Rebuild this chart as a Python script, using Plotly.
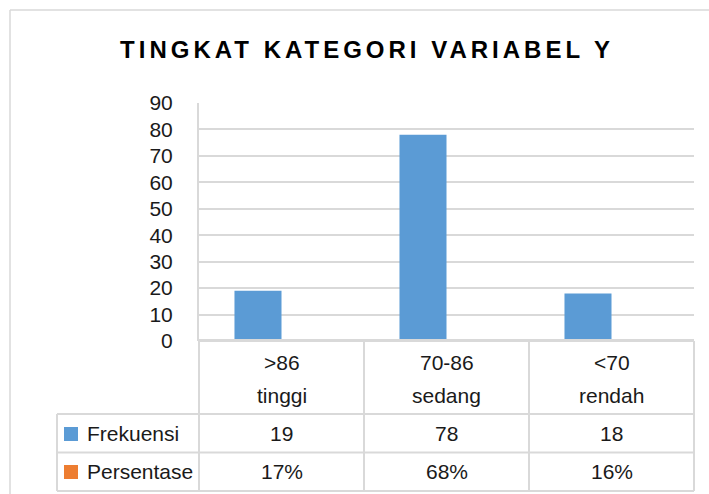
import plotly.graph_objects as go

# ---- data ----
cat_top = [">86", "70-86", "<70"]
cat_bottom = ["tinggi", "sedang", "rendah"]
frekuensi = [19, 78, 18]
persentase = [17, 68, 16]  # percent
series_names = ["Frekuensi", "Persentase"]
series_colors = ["#5B9BD5", "#ED7D31"]
title_text = "TINGKAT KATEGORI VARIABEL Y"

W, H = 709, 494
L, R, T, B = 199, 15, 103, 153
PW = W - L - R
PH = H - T - B
GRID = "#d9d9d9"
TXT = "#1a1a1a"
FONT = "Liberation Sans, Arial, sans-serif"


def px(x):
    return (x - L) / PW


def py(y):
    return (H - B - y) / PH


fig = go.Figure()
fig.add_trace(go.Bar(x=cat_top, y=frekuensi, name=series_names[0],
                     marker=dict(color=series_colors[0], line=dict(width=0))))
fig.add_trace(go.Bar(x=cat_top, y=[p / 100 for p in persentase], name=series_names[1],
                     marker=dict(color=series_colors[1], line=dict(width=0))))

shapes = []
line = dict(color=GRID, width=2)
# outer chart border (left and top edges visible)
shapes.append(dict(type="line", xref="paper", yref="paper", x0=px(10), x1=px(10),
                   y0=py(H), y1=py(10), line=dict(color=GRID, width=1.5), layer="below"))
shapes.append(dict(type="line", xref="paper", yref="paper", x0=px(10), x1=px(W),
                   y0=py(10), y1=py(10), line=dict(color=GRID, width=1.5), layer="below"))
# axis baseline / table top
shapes.append(dict(type="line", xref="paper", yref="paper", x0=px(199), x1=px(694),
                   y0=py(340.5), y1=py(340.5), line=dict(color=GRID, width=3), layer="above"))
# table horizontal lines
for yy in [414, 452.5, 491]:
    shapes.append(dict(type="line", xref="paper", yref="paper", x0=px(57), x1=px(694),
                       y0=py(yy), y1=py(yy), line=line, layer="above"))
# table vertical lines
shapes.append(dict(type="line", xref="paper", yref="paper", x0=px(57), x1=px(57),
                   y0=py(414), y1=py(491), line=line, layer="above"))
shapes.append(dict(type="line", xref="paper", yref="paper", x0=px(199), x1=px(199),
                   y0=py(341), y1=py(491), line=line, layer="above"))
for i in range(1, 4):
    xx = 199 + i * PW / 3
    shapes.append(dict(type="line", xref="paper", yref="paper", x0=px(xx), x1=px(xx),
                       y0=py(341), y1=py(491), line=line, layer="above"))
# legend keys in the table
for yc, col in [(434, series_colors[0]), (472, series_colors[1])]:
    shapes.append(dict(type="rect", xref="paper", yref="paper", x0=px(64), x1=px(78),
                       y0=py(yc + 7), y1=py(yc - 7), fillcolor=col, line=dict(width=0),
                       layer="above"))

ann = []
tfont = dict(family=FONT, size=21, color=TXT)
for i, c in enumerate(cat_top):
    ann.append(dict(x=c, xref="x", y=py(362), yref="paper", text=cat_top[i],
                    showarrow=False, font=tfont, xanchor="center", yanchor="middle"))
    ann.append(dict(x=c, xref="x", y=py(395), yref="paper", text=cat_bottom[i],
                    showarrow=False, font=tfont, xanchor="center", yanchor="middle"))
    ann.append(dict(x=c, xref="x", y=py(433), yref="paper", text=str(frekuensi[i]),
                    showarrow=False, font=tfont, xanchor="center", yanchor="middle"))
    ann.append(dict(x=c, xref="x", y=py(471.5), yref="paper", text=f"{persentase[i]}%",
                    showarrow=False, font=tfont, xanchor="center", yanchor="middle"))
for name, yc in zip(series_names, [433, 471.5]):
    ann.append(dict(x=px(85), xref="paper", y=py(yc), yref="paper", text=name,
                    showarrow=False, font=tfont, xanchor="left", yanchor="middle"))

fig.update_layout(
    width=W, height=H,
    margin=dict(l=L, r=R, t=T, b=B, pad=0),
    paper_bgcolor="white", plot_bgcolor="white",
    showlegend=False,
    barmode="group", bargap=0.43, bargroupgap=0,
    title=dict(text=f'<span style="letter-spacing:4px">{title_text}</span>',
               x=367 / W, xanchor="center", y=1 - 50 / H, yanchor="middle",
               font=dict(family=FONT, size=24, color="#000000", weight="bold")),
    xaxis=dict(type="category", range=[-0.5, 2.5], showticklabels=False,
               showgrid=False, zeroline=False, showline=False, fixedrange=True),
    yaxis=dict(range=[0, 90], dtick=10, showgrid=True, gridcolor=GRID, gridwidth=2,
               zeroline=False, showline=True, linecolor=GRID, linewidth=2,
               ticks="", ticklabelstandoff=20,
               tickfont=dict(family=FONT, size=21, color=TXT)),
    shapes=shapes, annotations=ann,
)

fig.write_html("out.html", config={"displayModeBar": False},
               post_script="document.body.style.margin='0';document.body.style.padding='0';"
                           "document.body.style.overflow='hidden';"
                           "document.documentElement.style.overflow='hidden';")
